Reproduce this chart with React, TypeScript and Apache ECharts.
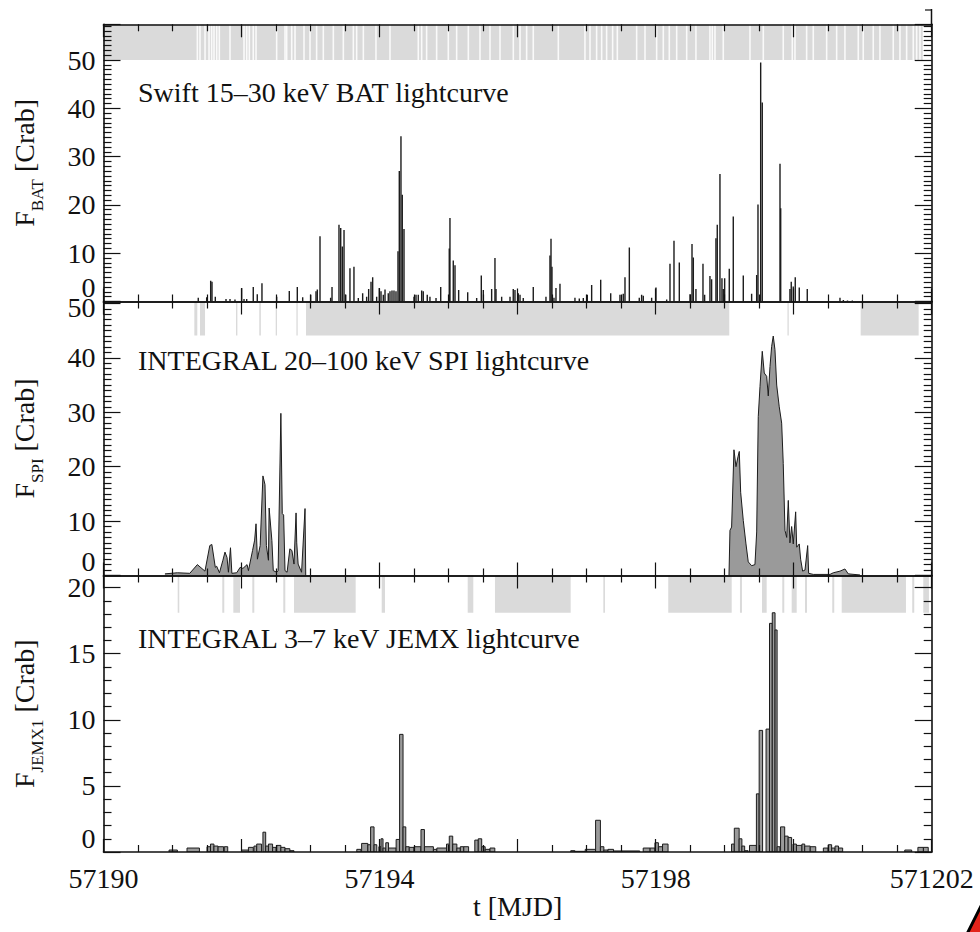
import React, { useEffect, useRef } from "react";
import * as echarts from "echarts";

const FONT = '"Liberation Serif", "DejaVu Serif", "Times New Roman", serif';
const INK = "#111";

// Time axis (MJD) shared by all three panels
const MJD_MIN = 57190;
const MJD_MAX = 57202;
const xTickLabels: Record<number, string> = {
  57190: "57190",
  57194: "57194",
  57198: "57198",
  57202: "571202",
};

// Panel annotations and axis titles
const panelTitles = [
  "Swift 15\u201330 keV BAT lightcurve",
  "INTEGRAL 20\u2013100 keV SPI lightcurve",
  "INTEGRAL 3\u20137 keV JEMX lightcurve",
];
const yNames = ["{f|F}{s|BAT}{f| [Crab]}", "{f|F}{s|SPI}{f| [Crab]}", "{f|F}{s|JEMX1}{f| [Crab]}"];
const xName = "t [MJD]";

// Swift/BAT 15-30 keV orbit bins: [MJD, flux (Crab)]
const batPoints: [number, number][] = [
  [57191.373, 0.8], [57191.495, 0.9], [57191.553, 4.3], [57191.572, 4.1], [57191.62, 1.0],
  [57191.775, 0.5], [57191.833, 0.5], [57191.905, 0.4], [57192.002, 2.8], [57192.036, 0.5],
  [57192.075, 0.5], [57192.17, 3.0], [57192.228, 1.5], [57192.296, 3.8], [57192.509, 1.0],
  [57192.692, 2.2], [57192.808, 3.0], [57192.886, 0.9], [57193.002, 1.4], [57193.079, 2.1],
  [57193.098, 2.5], [57193.137, 13.5], [57193.291, 0.8], [57193.311, 3.0], [57193.412, 15.9],
  [57193.437, 15.2], [57193.46, 11.4], [57193.485, 14.8], [57193.509, 1.4], [57193.571, 6.9],
  [57193.629, 7.2], [57193.692, 0.7], [57193.755, 1.7], [57193.813, 1.0], [57193.842, 2.6],
  [57193.876, 4.1], [57193.9, 5.0], [57193.958, 1.0], [57193.996, 2.8], [57194.021, 2.1],
  [57194.054, 1.4], [57194.079, 2.5], [57194.126, 1.7], [57194.151, 2.1], [57194.18, 2.3],
  [57194.209, 2.3], [57194.238, 2.1], [57194.267, 10.4], [57194.286, 27.0], [57194.31, 34.2],
  [57194.329, 22.1], [57194.354, 15.0], [57194.499, 1.0], [57194.528, 1.4], [57194.561, 1.4],
  [57194.61, 2.3], [57194.633, 2.1], [57194.691, 1.4], [57194.73, 1.0], [57194.818, 0.7],
  [57194.886, 3.0], [57195.01, 11.0], [57195.02, 17.3], [57195.068, 8.5], [57195.093, 7.5],
  [57195.146, 2.4], [57195.277, 1.9], [57195.407, 0.7], [57195.474, 5.4], [57195.503, 2.4],
  [57195.624, 2.6], [57195.672, 9.0], [57195.687, 2.6], [57195.769, 1.0], [57195.89, 1.0],
  [57195.937, 2.6], [57195.962, 2.4], [57196.01, 1.7], [57196.035, 1.4], [57196.082, 0.7],
  [57196.227, 3.0], [57196.411, 1.0], [57196.469, 9.5], [57196.484, 13.0], [57196.498, 7.2],
  [57196.527, 0.8], [57196.556, 2.8], [57196.614, 3.7], [57196.831, 0.8], [57196.894, 0.6],
  [57196.952, 0.7], [57197.01, 1.4], [57197.073, 3.4], [57197.204, 4.5], [57197.349, 1.7],
  [57197.483, 1.4], [57197.531, 1.6], [57197.556, 5.0], [57197.619, 11.2], [57197.763, 0.8],
  [57197.797, 1.4], [57197.821, 1.2], [57197.942, 0.8], [57198.005, 2.9], [57198.16, 0.4],
  [57198.208, 7.8], [57198.266, 12.6], [57198.343, 8.1], [57198.498, 1.5], [57198.527, 11.9],
  [57198.546, 9.1], [57198.584, 2.6], [57198.686, 7.8], [57198.71, 1.4], [57198.787, 5.3],
  [57198.811, 4.6], [57198.874, 13.1], [57198.893, 15.9], [57198.932, 26.4], [57198.961, 4.8],
  [57198.98, 2.6], [57199.0, 4.8], [57199.067, 6.8], [57199.125, 17.6], [57199.27, 5.4],
  [57199.391, 1.6], [57199.464, 5.5], [57199.483, 20.1], [57199.522, 49.5], [57199.545, 41.2],
  [57199.802, 28.5], [57199.812, 19.3], [57199.946, 2.6], [57199.965, 4.1], [57199.994, 3.1],
  [57200.023, 5.0], [57200.081, 2.9], [57200.197, 2.6], [57200.671, 0.8], [57200.72, 0.3],
  [57200.78, 0.2], [57200.85, 0.2],
];

// BAT exposure strip: covered span and the short interruptions within it
const batBand: [number, number][] = [[57190.0, 57201.87]];
const batBandGaps: number[] = [
  57191.36, 57191.398, 57191.471, 57191.529, 57191.567, 57191.601, 57191.64, 57191.678, 57191.833,
  57192.036, 57192.075, 57192.113, 57192.17, 57192.21, 57192.509, 57192.63, 57192.654, 57192.727,
  57192.775, 57192.905, 57192.992, 57193.088, 57193.185, 57193.33, 57193.475, 57193.62, 57193.668,
  57193.765, 57193.948, 57194.151, 57194.561, 57194.61, 57194.682, 57194.827, 57194.996, 57195.117,
  57195.286, 57195.455, 57195.6, 57195.745, 57195.938, 57196.035, 57196.131, 57196.227, 57196.59,
  57196.976, 57197.049, 57197.145, 57197.218, 57197.29, 57197.377, 57197.445, 57197.725, 57197.846,
  57198.015, 57198.111, 57198.198, 57198.305, 57198.45, 57198.584, 57198.787, 57198.821, 57198.86,
  57198.98, 57199.367, 57199.56, 57199.849, 57199.98, 57200.019, 57200.188, 57200.284, 57200.478,
  57200.623, 57200.743, 57200.936, 57201.008, 57201.153, 57201.25, 57201.443, 57201.54, 57201.637,
  57201.733, 57201.782, 57201.83,
];

// INTEGRAL/SPI 20-100 keV: [MJD, flux (Crab)], first and second active episode
const spiEarly: [number, number][] = [
  [57190.89, 0.3], [57191.07, 0.5], [57191.25, 0.4], [57191.36, 2.0], [57191.47, 0.8],
  [57191.54, 5.5], [57191.57, 5.7], [57191.62, 1.5], [57191.64, 1.7], [57191.68, 0.5],
  [57191.73, 2.8], [57191.76, 4.3], [57191.79, 3.3], [57191.81, 0.6], [57191.84, 5.1],
  [57191.86, 0.4], [57191.93, 0.5], [57191.98, 1.5], [57192.02, 1.3], [57192.08, 2.0],
  [57192.1, 0.9], [57192.16, 4.6], [57192.19, 6.5], [57192.21, 9.5], [57192.23, 3.0],
  [57192.27, 5.5], [57192.31, 18.3], [57192.34, 16.7], [57192.36, 5.5], [57192.39, 2.8],
  [57192.4, 12.4], [57192.44, 6.4], [57192.46, 0.9], [57192.51, 0.6], [57192.53, 0.9],
  [57192.57, 29.8], [57192.59, 11.4], [57192.61, 11.1], [57192.63, 0.9], [57192.66, 0.6],
  [57192.7, 4.9], [57192.73, 4.6], [57192.76, 2.1], [57192.79, 11.5], [57192.8, 6.0],
  [57192.82, 2.1], [57192.87, 0.6], [57192.92, 12.3], [57192.93, 0.0],
];
const spiLate: [number, number][] = [
  [57199.063, 0.0], [57199.077, 8.3], [57199.101, 8.9], [57199.135, 23.1], [57199.164, 20.0],
  [57199.193, 21.8], [57199.212, 22.8], [57199.232, 15.3], [57199.27, 10.1], [57199.309, 5.8],
  [57199.342, 2.5], [57199.391, 1.8], [57199.439, 2.0], [57199.464, 8.0], [57199.487, 29.2],
  [57199.512, 34.7], [57199.545, 41.2], [57199.574, 37.2], [57199.609, 36.6], [57199.632, 33.0],
  [57199.657, 38.4], [57199.681, 42.1], [57199.704, 44.0], [57199.729, 41.5], [57199.754, 35.0],
  [57199.791, 31.0], [57199.826, 28.0], [57199.849, 20.6], [57199.874, 8.3], [57199.899, 7.0],
  [57199.922, 13.8], [57199.946, 6.0], [57199.971, 9.0], [57199.994, 5.8], [57200.029, 11.7],
  [57200.044, 5.2], [57200.081, 5.8], [57200.101, 3.0], [57200.13, 0.8], [57200.164, 1.0],
  [57200.203, 5.5], [57200.217, 0.4], [57200.284, 0.2], [57200.526, 0.2], [57200.574, 0.5],
  [57200.671, 0.8], [57200.743, 1.2], [57200.791, 0.3], [57200.961, 0.1],
];

// SPI pointing strip: covered intervals [MJD start, MJD end]
const spiBand: [number, number][] = [
  [57191.316, 57191.359], [57191.398, 57191.471], [57191.92, 57191.94], [57192.257, 57192.28],
  [57192.495, 57192.51], [57192.795, 57192.805], [57192.934, 57199.067], [57199.91, 57199.925],
  [57200.971, 57201.811],
];

// INTEGRAL/JEM-X1 3-7 keV science-window bins: [MJD start, MJD end, flux (Crab)]
const jemxBins: [number, number, number][] = [
  [57190.95, 57191.07, 0.15], [57191.21, 57191.39, 0.3], [57191.5, 57191.55, 0.4],
  [57191.55, 57191.6, 0.6], [57191.6, 57191.66, 0.45], [57191.66, 57191.74, 0.4],
  [57191.75, 57191.8, 0.4], [57192.0, 57192.1, 0.15], [57192.1, 57192.17, 0.35],
  [57192.18, 57192.22, 0.45], [57192.22, 57192.29, 0.6], [57192.31, 57192.35, 1.5],
  [57192.35, 57192.39, 0.45], [57192.39, 57192.45, 0.6], [57192.45, 57192.5, 0.35],
  [57192.51, 57192.57, 0.5], [57192.57, 57192.63, 0.35], [57192.63, 57192.7, 0.25],
  [57192.7, 57192.76, 0.1], [57193.67, 57193.73, 0.2], [57193.74, 57193.83, 0.65],
  [57193.83, 57193.87, 0.55], [57193.87, 57193.92, 1.9], [57193.92, 57193.96, 0.55],
  [57193.99, 57194.02, 0.4], [57194.02, 57194.05, 1.0], [57194.05, 57194.09, 0.3],
  [57194.09, 57194.13, 0.7], [57194.13, 57194.24, 0.3], [57194.24, 57194.29, 0.95],
  [57194.29, 57194.34, 8.9], [57194.34, 57194.38, 1.9], [57194.38, 57194.43, 0.4],
  [57194.43, 57194.5, 0.35], [57194.5, 57194.6, 0.4], [57194.6, 57194.65, 1.7],
  [57194.65, 57194.78, 0.4], [57194.78, 57194.83, 0.2], [57194.83, 57194.97, 0.3],
  [57194.97, 57195.01, 0.6], [57195.01, 57195.06, 1.2], [57195.06, 57195.12, 0.6],
  [57195.12, 57195.17, 0.3], [57195.17, 57195.22, 0.4], [57195.22, 57195.29, 0.4],
  [57195.38, 57195.43, 0.9], [57195.43, 57195.48, 1.0], [57195.48, 57195.53, 0.4],
  [57195.53, 57195.6, 0.2], [57195.6, 57195.67, 0.3], [57196.77, 57196.83, 0.1],
  [57196.83, 57196.98, 0.05], [57196.98, 57197.13, 0.2], [57197.13, 57197.2, 2.4],
  [57197.2, 57197.25, 0.4], [57197.25, 57197.31, 0.15], [57197.31, 57197.39, 0.2],
  [57197.39, 57197.51, 0.08], [57197.51, 57197.77, 0.08], [57197.82, 57197.92, 0.3],
  [57197.92, 57197.99, 0.3], [57197.99, 57198.04, 0.7], [57198.04, 57198.1, 0.4],
  [57198.1, 57198.18, 0.6], [57199.1, 57199.14, 0.6], [57199.14, 57199.21, 1.8],
  [57199.21, 57199.25, 1.0], [57199.25, 57199.29, 0.45], [57199.29, 57199.34, 0.1],
  [57199.36, 57199.46, 0.5], [57199.46, 57199.5, 4.4], [57199.5, 57199.55, 9.2],
  [57199.6, 57199.65, 9.3], [57199.65, 57199.69, 17.3], [57199.69, 57199.73, 18.1],
  [57199.73, 57199.76, 16.8], [57199.76, 57199.8, 0.4], [57199.81, 57199.87, 1.9],
  [57199.87, 57199.92, 1.2], [57199.92, 57199.97, 1.1], [57199.99, 57200.04, 0.6],
  [57200.04, 57200.12, 0.5], [57200.12, 57200.16, 0.6], [57200.16, 57200.24, 0.45],
  [57200.24, 57200.32, 0.4], [57200.43, 57200.5, 0.3], [57200.5, 57200.55, 0.55],
  [57200.55, 57200.6, 0.3], [57200.6, 57200.65, 0.45], [57200.65, 57200.71, 0.3],
  [57201.61, 57201.71, 0.15], [57201.8, 57201.88, 0.35], [57201.88, 57201.95, 0.35],
];

// JEM-X pointing strip: covered intervals [MJD start, MJD end]
const jemxBand: [number, number][] = [
  [57191.075, 57191.098], [57191.721, 57191.75], [57191.881, 57191.978], [57192.156, 57192.185],
  [57192.605, 57192.634], [57192.76, 57193.654], [57194.031, 57194.079], [57195.277, 57195.358],
  [57195.672, 57196.769], [57197.242, 57197.266], [57198.183, 57199.102], [57199.222, 57199.251],
  [57199.541, 57199.609], [57199.835, 57199.864], [57199.971, 57200.044], [57200.164, 57200.193],
  [57200.559, 57200.588], [57200.696, 57201.627], [57201.718, 57201.747], [57201.878, 57201.96],
];

// Panel geometry (pixels) and value ranges
const layout = [
  { top: 24.3, height: 277.2, yMax: 57.4, step: 10, minor: 10, stripFrom: 50, lowerTop: false },
  { top: 301.5, height: 274, yMax: 50.35, step: 10, minor: 10, stripFrom: 44.1, lowerTop: true },
  { top: 575.5, height: 276.5, yMax: 20.92, step: 5, minor: 5, stripFrom: 18.1, lowerTop: false },
];
const GRID_LEFT = 103.5;
const GRID_RIGHT = 48.3;

const stripGrey = "#dadada";

function stripRenderer(from: number, to: number) {
  return (_params: any, api: any) => {
    const a = api.coord([api.value(0), to]);
    const b = api.coord([api.value(1), from]);
    return {
      type: "rect",
      shape: { x: a[0], y: a[1], width: Math.max(b[0] - a[0], 1.3), height: b[1] - a[1] },
      style: { fill: stripGrey },
    };
  };
}

function buildOption() {
  const xAxis: any[] = [];
  const yAxis: any[] = [];
  const grid: any[] = [];
  const lineStyle = { color: INK, width: 1.6 };
  const tickStyle = { color: INK, width: 1.2 };
  const labelFont = { fontSize: 28, fontFamily: FONT, color: INK };

  layout.forEach((p, i) => {
    grid.push({ left: GRID_LEFT, right: GRID_RIGHT, top: p.top, height: p.height });
    (["bottom", "top"] as const).forEach((pos) => {
      const labelled = pos === "bottom" && i === layout.length - 1;
      xAxis.push({
        type: "value",
        gridIndex: i,
        position: pos,
        min: MJD_MIN,
        max: MJD_MAX,
        interval: 2,
        z: 5,
        axisLine: { show: true, onZero: false, lineStyle },
        axisTick: { show: true, inside: true, length: 13, lineStyle: tickStyle },
        minorTick: { show: true, splitNumber: 4, length: 7, lineStyle: tickStyle },
        splitLine: { show: false },
        axisLabel: {
          show: labelled,
          ...labelFont,
          margin: 12,
          formatter: (v: number) => xTickLabels[Math.round(v)] ?? "",
        },
        name: labelled ? xName : "",
        nameLocation: "middle",
        nameGap: 37,
        nameTextStyle: labelFont,
      });
    });
    (["left", "right"] as const).forEach((pos) => {
      const labelled = pos === "left";
      const topTick = Math.floor(p.yMax / p.step + 1e-9) * p.step;
      yAxis.push({
        type: "value",
        gridIndex: i,
        position: pos,
        min: 0,
        max: p.yMax,
        interval: p.step,
        z: 5,
        axisLine: { show: true, onZero: false, lineStyle },
        axisTick: { show: true, inside: true, length: 17, lineStyle: tickStyle },
        minorTick: { show: true, splitNumber: p.minor, length: 8, lineStyle: tickStyle },
        splitLine: { show: false },
        axisLabel: {
          show: labelled,
          ...labelFont,
          margin: 8,
          showMaxLabel: false,
          verticalAlignMinLabel: "bottom",
          formatter: (v: number) => {
            if (Math.abs(v / p.step - Math.round(v / p.step)) > 1e-6) return "";
            const s = String(Math.round(v));
            // the top label of the middle panel sits just under the panel seam
            return p.lowerTop && Math.round(v) === topTick ? `{lo|${s}}` : s;
          },
          rich: { lo: { ...labelFont, padding: [9, 0, 0, 0] } },
        },
        name: labelled ? yNames[i] : "",
        nameLocation: "middle",
        nameRotate: 90,
        nameGap: 58,
        nameTextStyle: {
          rich: {
            f: { fontSize: 28, fontFamily: FONT, color: INK, padding: [0, 0, 7, 0] },
            s: { fontSize: 17, fontFamily: FONT, color: INK, verticalAlign: "bottom" },
          },
        },
      });
    });
  });

  const series: any[] = [
    // exposure strips
    {
      type: "custom",
      xAxisIndex: 0,
      yAxisIndex: 0,
      clip: true,
      z: 1,
      silent: true,
      data: batBand,
      renderItem: stripRenderer(layout[0].stripFrom, layout[0].yMax),
    },
    {
      type: "custom",
      xAxisIndex: 0,
      yAxisIndex: 0,
      clip: true,
      z: 1,
      silent: true,
      data: batBandGaps.map((t) => [t]),
      renderItem: (_params: any, api: any) => {
        const a = api.coord([api.value(0), layout[0].yMax]);
        const b = api.coord([api.value(0), layout[0].stripFrom]);
        return {
          type: "rect",
          shape: { x: a[0] - 0.8, y: a[1], width: 1.6, height: b[1] - a[1] },
          style: { fill: "#ffffff", opacity: 0.85 },
        };
      },
    },
    {
      type: "custom",
      xAxisIndex: 2,
      yAxisIndex: 2,
      clip: true,
      z: 1,
      silent: true,
      data: spiBand,
      renderItem: stripRenderer(layout[1].stripFrom, layout[1].yMax),
    },
    {
      type: "custom",
      xAxisIndex: 4,
      yAxisIndex: 4,
      clip: true,
      z: 1,
      silent: true,
      data: jemxBand,
      renderItem: stripRenderer(layout[2].stripFrom, layout[2].yMax),
    },
    // BAT light curve
    {
      type: "custom",
      xAxisIndex: 0,
      yAxisIndex: 0,
      clip: true,
      z: 3,
      data: batPoints,
      renderItem: (_params: any, api: any) => {
        const p0 = api.coord([api.value(0), 0]);
        const p1 = api.coord([api.value(0), api.value(1)]);
        return {
          type: "line",
          shape: { x1: p0[0], y1: p0[1], x2: p1[0], y2: p1[1] },
          style: { stroke: "#1c1c1c", lineWidth: 1.4 },
        };
      },
    },
    // SPI light curve
    ...[spiEarly, spiLate].map((d) => ({
      type: "line",
      xAxisIndex: 2,
      yAxisIndex: 2,
      z: 3,
      data: d,
      symbol: "none",
      lineStyle: { color: "#1c1c1c", width: 1 },
      areaStyle: { color: "#9a9a9a", opacity: 1 },
    })),
    // JEM-X light curve
    {
      type: "custom",
      xAxisIndex: 4,
      yAxisIndex: 4,
      clip: true,
      z: 3,
      data: jemxBins,
      renderItem: (_params: any, api: any) => {
        const a = api.coord([api.value(0), api.value(2)]);
        const b = api.coord([api.value(1), 0]);
        return {
          type: "rect",
          shape: { x: a[0], y: a[1], width: b[0] - a[0], height: b[1] - a[1] },
          style: { fill: "#9a9a9a", stroke: "#1c1c1c", lineWidth: 1 },
        };
      },
    },
  ];

  const titleBaselines = [92, 360, 638];
  const graphic: any[] = panelTitles.map((text, i) => ({
    type: "text",
    x: 138,
    y: titleBaselines[i],
    z: 10,
    style: { text, fontSize: 28, fontFamily: FONT, fill: INK, verticalAlign: "middle" },
  }));
  graphic.push(
    { type: "line", shape: { x1: 931.5, y1: 9, x2: 931.5, y2: 25 }, style: { stroke: INK, lineWidth: 1.5 } },
    { type: "line", shape: { x1: 925, y1: 10, x2: 931.5, y2: 10 }, style: { stroke: INK, lineWidth: 1.2 } },
    {
      type: "polygon",
      shape: { points: [[967, 934], [983, 902], [983, 934]] },
      style: { fill: "#e3241b", stroke: "#000", lineWidth: 3 },
    }
  );

  return {
    animation: false,
    backgroundColor: "#ffffff",
    textStyle: { fontFamily: FONT },
    grid,
    xAxis,
    yAxis,
    series,
    graphic,
  };
}

export default function App() {
  const ref = useRef<HTMLDivElement>(null);
  useEffect(() => {
    if (!ref.current) return;
    const chart = echarts.init(ref.current, undefined, { renderer: "svg" });
    chart.setOption(buildOption());
    return () => chart.dispose();
  }, []);
  return (
    <div
      ref={ref}
      style={{ position: "fixed", left: 0, top: 0, width: 980, height: 932, background: "#fff" }}
    />
  );
}
